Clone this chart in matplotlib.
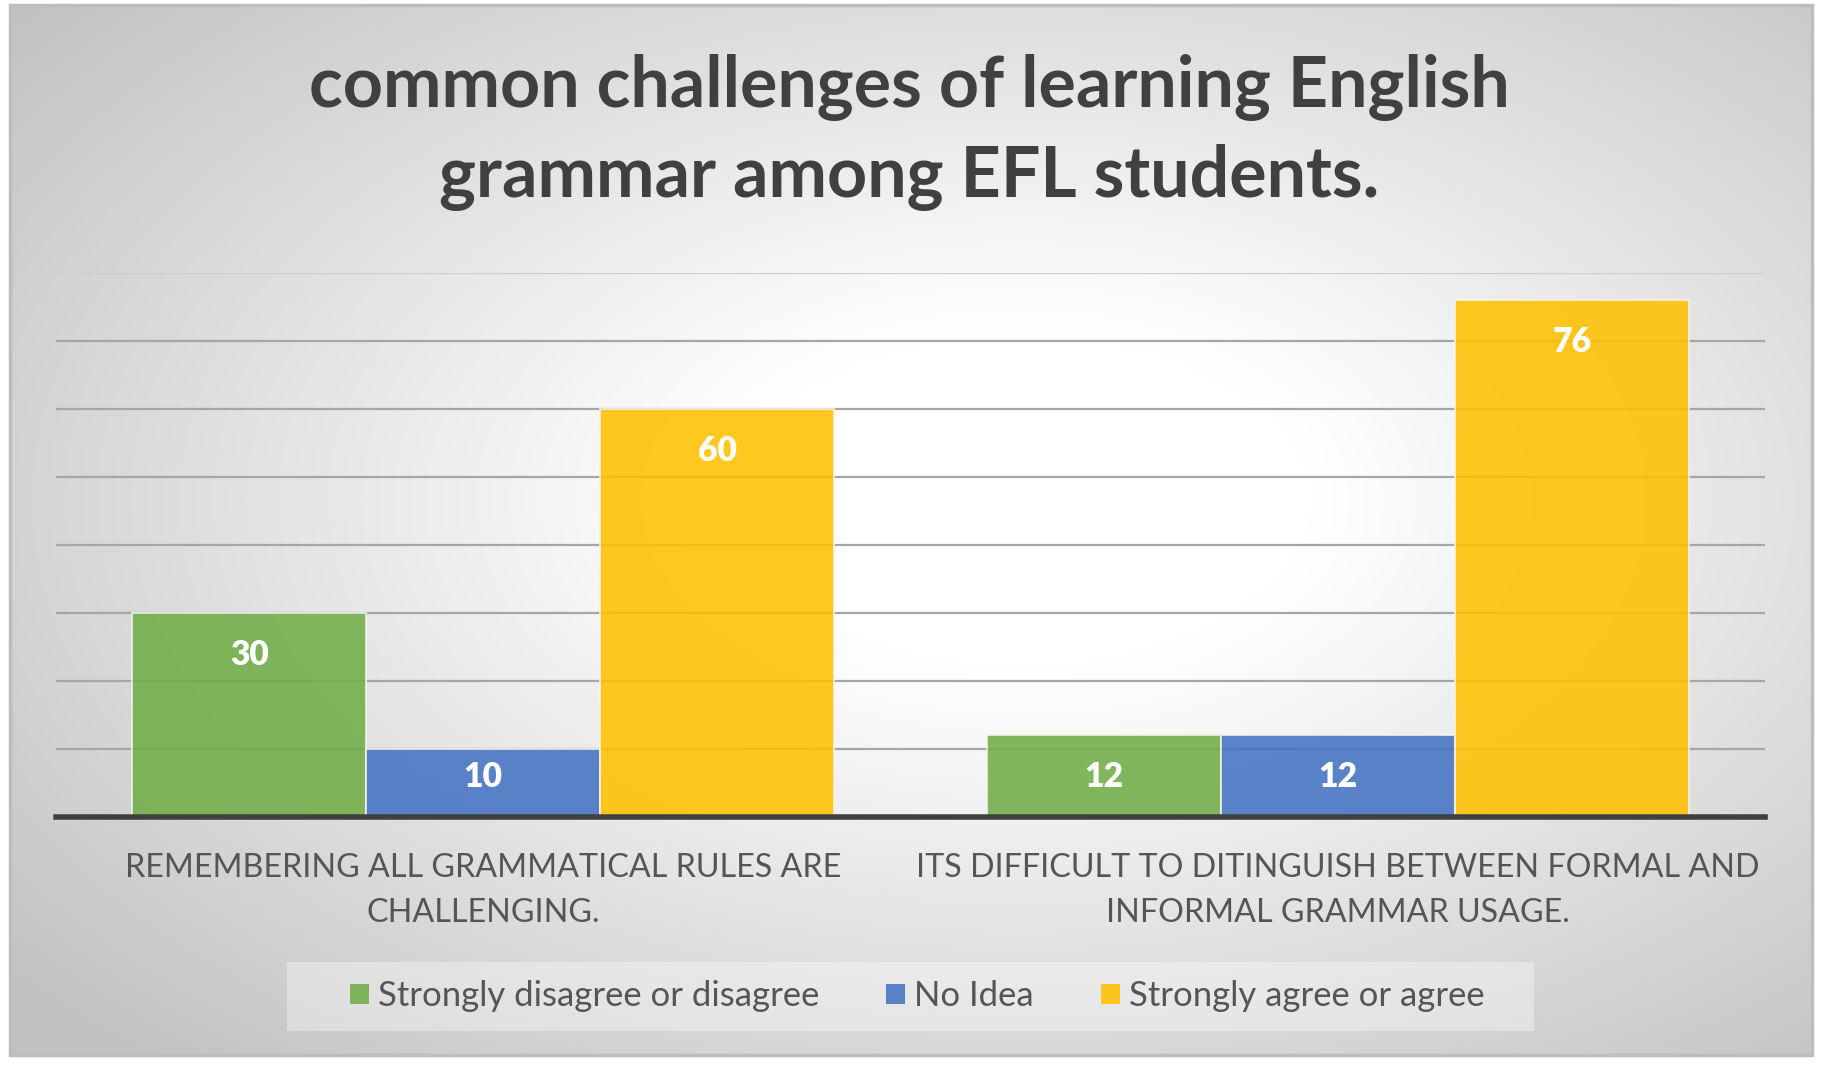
import matplotlib
matplotlib.use("Agg")
import matplotlib.pyplot as plt
from matplotlib.patches import Rectangle
import numpy as np

# ---------------- data ----------------
categories = [
    ["REMEMBERING ALL GRAMMATICAL RULES ARE", "CHALLENGING."],
    ["ITS DIFFICULT TO DITINGUISH BETWEEN FORMAL AND", "INFORMAL GRAMMAR USAGE."],
]
series_names = ["Strongly disagree or disagree", "No Idea", "Strongly agree or agree"]
disagree = [30, 12]
no_idea = [10, 12]
agree = [60, 76]
title_lines = ["common challenges of learning English", "grammar among EFL students."]
y_ticks = [0, 10, 20, 30, 40, 50, 60, 70, 80]

colors = ["#70AD47", "#4472C4", "#FFC000"]
FONT = "Lato"

W, H = 1835, 1068
fig = plt.figure(figsize=(W / 100, H / 100), dpi=100)
renderer = fig.canvas.get_renderer()


def fx(px):
    return px / W


def fy(py):
    return 1 - py / H


# ---------------- background ----------------
bg = fig.add_axes([0, 0, 1, 1], zorder=0)
bg.set_xlim(0, W)
bg.set_ylim(H, 0)
bg.axis("off")
x0b, x1b, y0b, y1b = 10, 1812, 5, 1055
gx = np.linspace(x0b, x1b, 400)
gy = np.linspace(y0b, y1b, 240)
XX, YY = np.meshgrid(gx, gy)
cx, cy = 1020, 500
r = np.sqrt(((XX - cx) / ((x1b - x0b) / 2)) ** 2 + ((YY - cy) / ((y1b - y0b) / 2)) ** 2)
t = np.clip((r - 0.33) / (1.45 - 0.33), 0, 1)
val = 1.0 - t * (1.0 - 0.76)
img = np.dstack([val, val, val])
bg.imshow(img, extent=[x0b, x1b, y1b, y0b], aspect="auto", interpolation="bicubic", zorder=0)
bg.add_patch(Rectangle((x0b, y0b), x1b - x0b, y1b - y0b, fill=False,
                       edgecolor="#bdbdbd", linewidth=2.5, zorder=1))

# legend box
bg.add_patch(Rectangle((287, 962), 1534 - 287, 1031 - 962, facecolor="white",
                       alpha=0.35, edgecolor="none", zorder=2))

# ---------------- main axes ----------------
L, R, T, B = 56, 1765, 273, 817
ax = fig.add_axes([fx(L), fy(B), fx(R - L), (B - T) / H], zorder=2)
ax.patch.set_alpha(0)
ax.set_ylim(0, 80)
ax.set_xlim(-0.5, 1.5)
ax.set_yticks(y_ticks)
ax.set_xticks([])
ax.tick_params(left=False, labelleft=False)
for s in ax.spines.values():
    s.set_visible(False)
ax.yaxis.grid(True, color="#a6a6a6", linewidth=1.6, zorder=0)
ax.set_axisbelow(True)
ax.get_ygridlines()[-1].set_color("#cdcdcd")

bw = 0.274
x = np.arange(len(categories))
all_series = [disagree, no_idea, agree]
bars = []
for i, (vals, c, name) in enumerate(zip(all_series, colors, series_names)):
    b = ax.bar(x + (i - 1) * bw, vals, width=bw, color=c, alpha=0.87,
               edgecolor="#f4f4ee", linewidth=1.3, label=name, zorder=2)
    bars.append(b)

ax.axhline(0, color="#404040", linewidth=4.0, zorder=4, clip_on=False)


def fit(s, weight, target):
    tt = fig.text(0, 0, s, fontsize=10, family=FONT, fontweight=weight)
    w = tt.get_window_extent(renderer).width
    tt.remove()
    return 10 * target / w


# data labels
fs_lab = fit("30", "heavy", 39)
for i, vals in enumerate(all_series):
    for j, v in enumerate(vals):
        yl = max(v - 6.2, 5.9)
        ax.text(x[j] + (i - 1) * bw, yl, str(v), ha="center", va="center",
                color="white", fontsize=fs_lab, family=FONT, fontweight="heavy", zorder=5)

# ---------------- title ----------------
fs_title = fit(title_lines[0], "bold", 1202)
fig.text(fx(909), fy(107), title_lines[0], ha="center", va="baseline",
         fontsize=fs_title, family=FONT, fontweight="bold", color="#404040")
fig.text(fx(909), fy(197), title_lines[1], ha="center", va="baseline",
         fontsize=fs_title, family=FONT, fontweight="bold", color="#404040")

# ---------------- category labels ----------------
fs_cat = (fit(categories[0][0], "normal", 715) + fit(categories[1][0], "normal", 826)) / 2
cat_w = (R - L) / len(categories)
for j, lines in enumerate(categories):
    cxp = L + (j + 0.5) * cat_w
    for k, line in enumerate(lines):
        fig.text(fx(cxp), fy(877 + 45 * k), line, ha="center", va="baseline",
                 fontsize=fs_cat, family=FONT, color="#555555")

# ---------------- legend ----------------
fs_leg = fit(series_names[0], "normal", 440)
em = fs_leg * 100 / 72
leg = fig.legend(handles=bars, labels=series_names, loc="center",
                 bbox_to_anchor=(fx(917), fy(996)), ncol=3, frameon=False,
                 prop={"family": FONT, "size": fs_leg},
                 handlelength=19 / em, handleheight=18 / em,
                 handletextpad=9 / em, columnspacing=67 / em,
                 labelcolor="#555555")
for h in leg.legend_handles:
    h.set_alpha(0.87)
    h.set_edgecolor("none")

fig.savefig("out.png", dpi=100)
